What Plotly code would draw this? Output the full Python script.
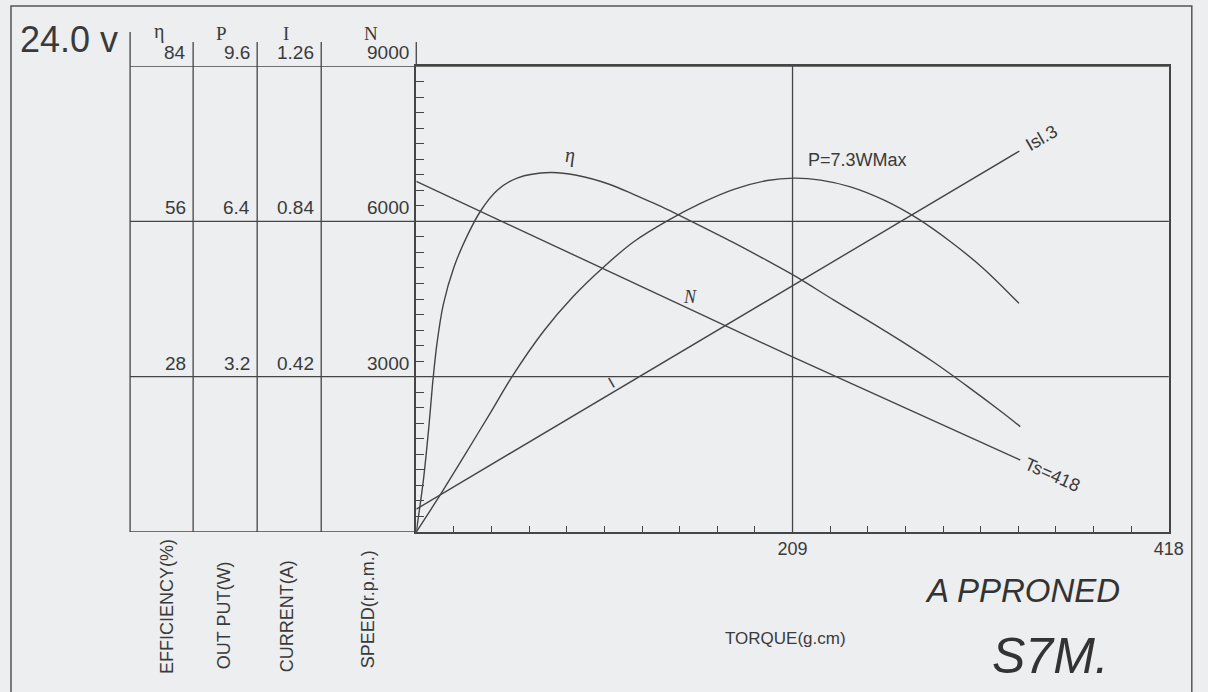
import plotly.graph_objects as go

# ---------------- data ----------------
torque_ticks = [i * 20.9 for i in range(21)]
torque_labels = ["" if i not in (10, 20) else ("209" if i == 10 else "418") for i in range(21)]

eta_torque = [0, 4, 7, 9, 11.5, 15, 21, 28, 36, 45, 56, 74.5, 89, 108, 121, 139, 154, 176, 195, 210,
              232, 250.5, 269, 287.5, 306, 324.5, 335.5]
eta_values = [0, 9.5, 19.0, 26.5, 34.0, 41.0, 47.8, 53.2, 58.0, 61.6, 63.8, 64.8, 64.3, 62.6, 60.8, 58.2,
              55.8, 52.2, 48.9, 46.2, 41.8, 38.2, 34.5, 30.6, 26.3, 21.8, 19.0]

power_torque = [0, 11.5, 26.3, 41.1, 53.2, 70.8, 87.4, 104.1, 120.8, 139.4, 157.9, 176.4, 194.9, 209.7,
                224.6, 241.2, 259.6, 278.3, 296.8, 315.3, 334.8]
power_values = [0, 0.66, 1.55, 2.45, 3.20, 4.14, 4.86, 5.46, 5.98, 6.41, 6.77, 7.06, 7.24, 7.29,
                7.25, 7.11, 6.84, 6.46, 5.98, 5.42, 4.71]

speed_torque = [0, 209, 335.5]
speed_values = [6770, 3380, 1390]

current_torque = [0, 335]
current_values = [0.062, 1.03]

eta_tick_labels = ["28", "56", "84"]
eta_tick_vals = [28, 56, 84]
power_tick_labels = ["3.2", "6.4", "9.6"]
power_tick_vals = [3.2, 6.4, 9.6]
current_tick_labels = ["0.42", "0.84", "1.26"]
current_tick_vals = [0.42, 0.84, 1.26]
speed_tick_labels = ["3000", "6000", "9000"]
speed_tick_vals = [3000, 6000, 9000]
speed_minor = [i * 300 for i in range(31)]

# ---------------- layout helpers ----------------
W, H = 1208, 692
WX = 1192.2   # effective horizontal extent of the photographed page
def px(x):
    return min(x / WX, 0.999)
def py(y):
    return 1 - y / H

BG = "#eceef0"
INK = "#454545"
TXT = "#3a3a3a"
SANS = "Liberation Sans, Arial, sans-serif"
SERIF = "Liberation Serif, Times New Roman, serif"

fig = go.Figure()
line = dict(color=INK, width=1.4)
fig.add_trace(go.Scatter(x=eta_torque, y=eta_values, yaxis="y2", mode="lines",
                         line=dict(color=INK, width=1.4, shape="spline", smoothing=0.9), hoverinfo="skip"))
fig.add_trace(go.Scatter(x=power_torque, y=power_values, yaxis="y3", mode="lines",
                         line=dict(color=INK, width=1.4, shape="spline", smoothing=0.9), hoverinfo="skip"))
fig.add_trace(go.Scatter(x=current_torque, y=current_values, yaxis="y4", mode="lines",
                         line=line, hoverinfo="skip"))
fig.add_trace(go.Scatter(x=speed_torque, y=speed_values, yaxis="y", mode="lines",
                         line=line, hoverinfo="skip"))

xdom = [px(416), px(1168)]
ydom = [py(532), py(66)]

shapes = []
def seg(x0, y0, x1, y1, xref="paper", yref="paper", w=1.3):
    shapes.append(dict(type="line", x0=x0, y0=y0, x1=x1, y1=y1, xref=xref, yref=yref,
                       line=dict(color=INK, width=w), layer="below"))

for v in speed_tick_vals:
    seg(px(130), v, px(1168), v, yref="y")
seg(px(130), 0, px(416), 0, yref="y")
seg(torque_ticks[10], 0, torque_ticks[10], 9000, xref="x", yref="y")
seg(px(130), py(32), px(130), py(532))
for xx in (193, 257, 321):
    seg(px(xx), py(42), px(xx), py(532))
seg(px(416), py(42), px(416), py(66))
shapes.append(dict(type="rect", x0=px(11), y0=py(6), x1=px(1203), y1=py(700), xref="paper", yref="paper",
                   line=dict(color="#555", width=1.5), layer="below"))

ann = []
def text(x, y, t, size=18, font=SANS, xanchor="center", yanchor="middle", angle=0, yref="paper",
         italic=False, color=TXT, yshift=0):
    ann.append(dict(x=x, y=y, xref="paper", yref=yref, text=t, showarrow=False, xanchor=xanchor,
                    yanchor=yanchor, textangle=angle, yshift=yshift,
                    font=dict(family=font, size=size, color=color, style="italic" if italic else "normal")))

text(px(18), py(40), "24.0 v", size=36, xanchor="left")
text(px(159), py(32), "η", size=20, font=SERIF)
text(px(221), py(33), "P", size=19, font=SERIF)
text(px(286), py(33), "I", size=19, font=SERIF)
text(px(371), py(33), "N", size=19, font=SERIF)
for v, t in zip(eta_tick_vals, eta_tick_labels):
    text(px(188), v, t, size=19, xanchor="right", yanchor="bottom", yref="y2", yshift=1)
for v, t in zip(power_tick_vals, power_tick_labels):
    text(px(252), v, t, size=19, xanchor="right", yanchor="bottom", yref="y3", yshift=1)
for v, t in zip(current_tick_vals, current_tick_labels):
    text(px(316), v, t, size=19, xanchor="right", yanchor="bottom", yref="y4", yshift=1)
for v, t in zip(speed_tick_vals, speed_tick_labels):
    text(px(411), v, t, size=19, xanchor="right", yanchor="bottom", yref="y", yshift=1)
text(px(167), py(607), "EFFICIENCY(%)", size=18, angle=-90)
text(px(224), py(615), "OUT PUT(W)", size=18, angle=-90)
text(px(287), py(616), "CURRENT(A)", size=18, angle=-90)
text(px(368), py(609), "SPEED(r.p.m.)", size=18, angle=-90)
text(px(570), py(155), "η", size=20, font=SERIF, italic=True)
text(px(690), py(297), "N", size=18, font=SERIF, italic=True)
text(px(611), py(382), "I", size=16, font=SANS, angle=-30)
text(px(805), py(160), "P=7.3WMax", size=18, xanchor="left")
text(px(1041), py(138), "Isl.3", size=18, angle=-30)
text(px(1052), py(475), "Ts=418", size=18, angle=24)
text(px(785), py(638), "TORQUE(g.cm)", size=17)
text(px(1022), py(590), "A PPRONED", size=33, italic=True, color="#333")
text(px(1050), py(656), "S7M.", size=50, italic=True, color="#333")

fig.update_layout(
    height=H, margin=dict(l=0, r=0, t=0, b=0),
    paper_bgcolor=BG, plot_bgcolor=BG, showlegend=False,
    shapes=shapes, annotations=ann,
    xaxis=dict(domain=xdom, range=[0, 418], showgrid=False, zeroline=False, showline=True, mirror=True,
               linecolor=INK, linewidth=1.5, tickmode="array", tickvals=torque_ticks, ticktext=torque_labels,
               ticks="inside", ticklen=6, tickcolor=INK, tickfont=dict(family=SANS, size=18, color=TXT)),
    yaxis=dict(domain=ydom, range=[0, 9000], showgrid=False, zeroline=False, showline=True, mirror=True,
               linecolor=INK, linewidth=1.5, tickmode="array", tickvals=speed_minor,
               ticktext=["" for _ in speed_minor], ticks="inside", ticklen=8, tickcolor=INK),
    yaxis2=dict(domain=ydom, range=[0, 84], overlaying="y", visible=False),
    yaxis3=dict(domain=ydom, range=[0, 9.6], overlaying="y", visible=False),
    yaxis4=dict(domain=ydom, range=[0, 1.26], overlaying="y", visible=False),
)

page_css = (
    "var gd=document.getElementById('{plot_id}');"
    "var de=document.documentElement;de.style.margin='0';de.style.overflow='hidden';de.style.background='" + BG + "';"
    "document.body.style.margin='0';document.body.style.overflow='hidden';document.body.style.background='" + BG + "';"
    "Plotly.Plots.resize(gd);"
)

fig.write_html(
    "out.html",
    default_width="100%",
    config={"displayModeBar": False},
    post_script=page_css,
)
